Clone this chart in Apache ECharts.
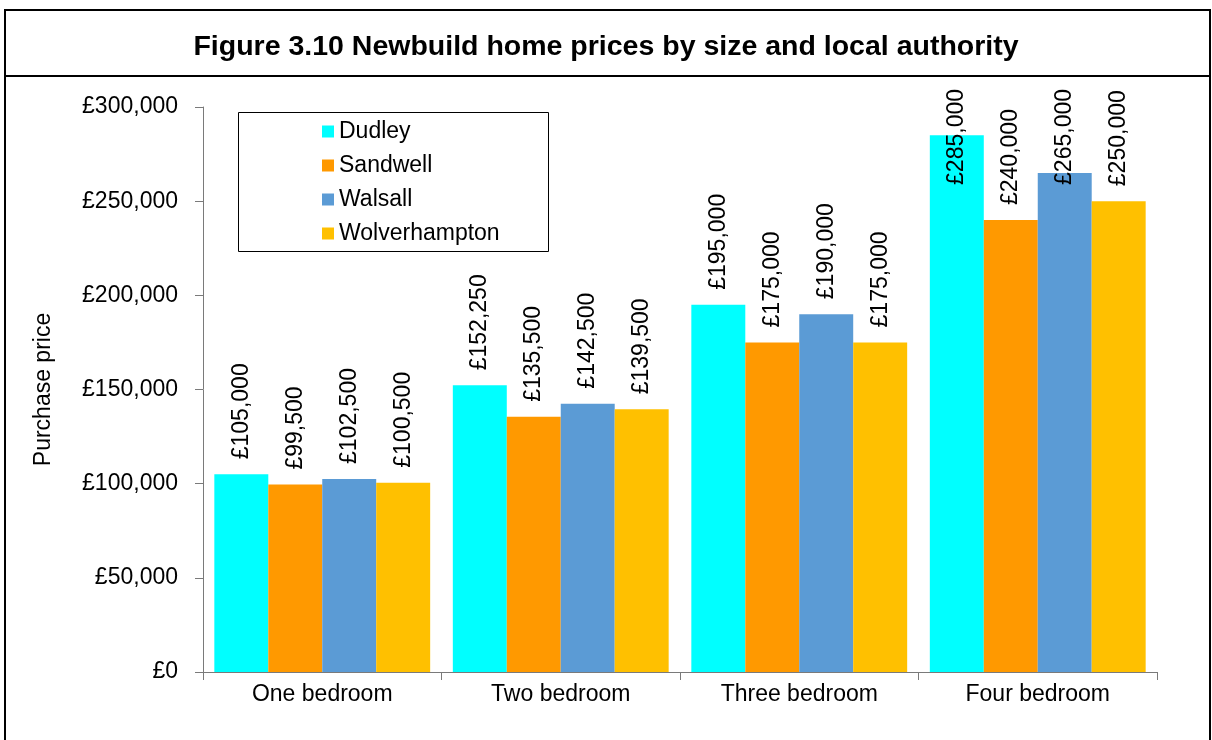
<!DOCTYPE html>
<html>
<head>
<meta charset="utf-8">
<script src="https://cdn.jsdelivr.net/npm/echarts@6/dist/echarts.min.js"></script>
<style>
  html, body { margin: 0; padding: 0; background: #fff; }
  #chart { width: 1212px; height: 740px; }
</style>
</head>
<body>
<div id="chart"></div>
<script>
var categories = ['One bedroom', 'Two bedroom', 'Three bedroom', 'Four bedroom'];
var dudley = [105000, 152250, 195000, 285000];
var sandwell = [99500, 135500, 175000, 240000];
var walsall = [102500, 142500, 190000, 265000];
var wolverhampton = [100500, 139500, 175000, 250000];
var seriesNames = ['Dudley', 'Sandwell', 'Walsall', 'Wolverhampton'];
var seriesColors = ['#00FFFF', '#FF9900', '#5B9BD5', '#FFC000'];

var FONT = 'Liberation Sans, Arial, sans-serif';
var FS = 23;
var LABEL_TOP = 89; // labels kept inside the chart area, like Excel does

function money(v) {
  return '£' + v.toLocaleString('en-GB');
}

var myChart = echarts.init(document.getElementById('chart'));

function makeSeries(name, data, i) {
  return {
    name: name,
    type: 'bar',
    data: data,
    barGap: 0,
    barCategoryGap: '9.5%',
    itemStyle: { color: seriesColors[i] },
    label: {
      show: true,
      position: 'top',
      rotate: 90,
      align: 'left',
      verticalAlign: 'middle',
      color: '#000',
      fontFamily: FONT,
      fontSize: FS,
      formatter: function (p) { return money(p.value); }
    },
    labelLayout: function (params) {
      var r = params.rect;
      var h = params.labelRect.height;
      var y = r.y - 15;
      if (y - h < LABEL_TOP) y = LABEL_TOP + h;
      return { x: r.x + r.width / 2, y: y };
    }
  };
}

myChart.setOption({
  animation: false,
  textStyle: { fontFamily: FONT },
  title: {
    text: 'Figure 3.10 Newbuild home prices by size and local authority',
    left: 'center',
    top: 28,
    textStyle: { fontFamily: FONT, fontSize: 28.5, fontWeight: 'bold', color: '#000' }
  },
  graphic: [
    {
      type: 'rect',
      shape: { x: 5, y: 10, width: 1205, height: 760 },
      style: { fill: 'none', stroke: '#000', lineWidth: 2 },
      silent: true
    },
    {
      type: 'line',
      shape: { x1: 5, y1: 76, x2: 1210, y2: 76 },
      style: { stroke: '#000', lineWidth: 2 },
      silent: true
    },
    {
      type: 'rect',
      shape: { x: 238.5, y: 112.5, width: 310, height: 139 },
      style: { fill: 'none', stroke: '#000', lineWidth: 1 },
      silent: true
    }
  ],
  legend: {
    orient: 'vertical',
    left: 322,
    top: 120,
    padding: 0,
    itemGap: 11,
    itemWidth: 12,
    itemHeight: 12,
    icon: 'rect',
    textStyle: { fontFamily: FONT, fontSize: FS, color: '#000' },
    data: seriesNames
  },
  grid: {
    left: 203,
    right: 55,
    top: 107,
    bottom: 68,
    containLabel: false
  },
  xAxis: {
    type: 'category',
    data: categories,
    axisLine: { lineStyle: { color: '#7a7a7a', width: 1 } },
    axisTick: { show: true, length: 8, lineStyle: { color: '#7a7a7a' } },
    axisLabel: { color: '#000', fontFamily: FONT, fontSize: FS, margin: 11 }
  },
  yAxis: {
    type: 'value',
    min: 0,
    max: 300000,
    interval: 50000,
    name: 'Purchase price',
    nameLocation: 'middle',
    nameGap: 148,
    nameTextStyle: { color: '#000', fontFamily: FONT, fontSize: FS },
    axisLine: { show: true, lineStyle: { color: '#7a7a7a', width: 1 } },
    axisTick: { show: true, length: 8, lineStyle: { color: '#7a7a7a' } },
    splitLine: { show: false },
    axisLabel: {
      color: '#000',
      fontFamily: FONT,
      fontSize: FS,
      margin: 25,
      formatter: function (v) { return money(v); }
    }
  },
  series: [
    makeSeries(seriesNames[0], dudley, 0),
    makeSeries(seriesNames[1], sandwell, 1),
    makeSeries(seriesNames[2], walsall, 2),
    makeSeries(seriesNames[3], wolverhampton, 3)
  ]
});
</script>
</body>
</html>
